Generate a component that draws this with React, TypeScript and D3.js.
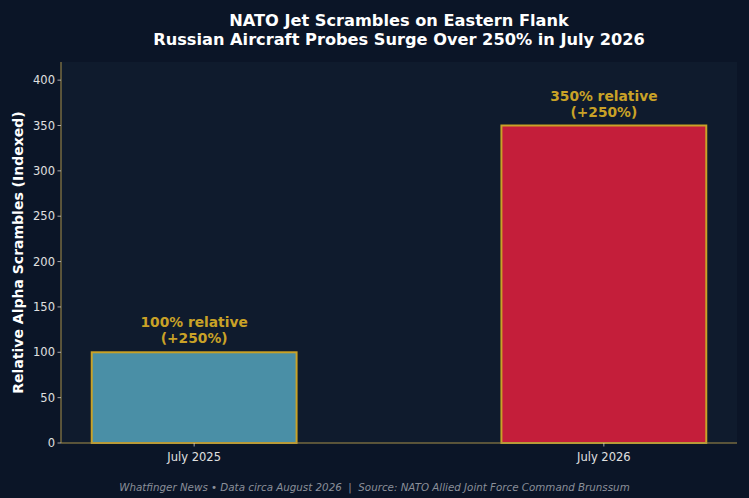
import React from "react";
import * as d3 from "d3";

const categories = ["July 2025", "July 2026"];
const values = [100, 350];
const barColors = ["#4a8fa6", "#c41e3a"];
const labelLines = [
  ["100% relative", "(+250%)"],
  ["350% relative", "(+250%)"],
];
const yTicks = [0, 50, 100, 150, 200, 250, 300, 350, 400];
const titleLines = [
  "NATO Jet Scrambles on Eastern Flank",
  "Russian Aircraft Probes Surge Over 250% in July 2026",
];
const yLabel = "Relative Alpha Scrambles (Indexed)";
const footer =
  "Whatfinger News \u2022 Data circa August 2026  |  Source: NATO Allied Joint Force Command Brunssum";

const W = 749;
const H = 498;
const M = { left: 61, right: 12, top: 62, bottom: 55 };
const FONT = "'DejaVu Sans', sans-serif";
const GOLD = "#c9a227";

export default function App() {
  const x = d3
    .scaleBand<string>()
    .domain(categories)
    .range([M.left, W - M.right])
    .paddingInner(0.5)
    .paddingOuter(0.075);
  const y = d3.scaleLinear().domain([0, 420]).range([H - M.bottom, M.top]);
  const plotW = W - M.left - M.right;
  const cx = M.left + plotW / 2;

  return (
    <svg
      width={W}
      height={H}
      style={{ position: "absolute", left: 0, top: 0, display: "block" }}
      fontFamily={FONT}
    >
      <rect x={0} y={0} width={W} height={H} fill="#0b1527" />
      <rect
        x={M.left}
        y={M.top}
        width={plotW}
        height={H - M.top - M.bottom}
        fill="#0f1b2d"
      />
      {titleLines.map((t, i) => (
        <text
          key={i}
          x={cx}
          y={26 + i * 19}
          textAnchor="middle"
          fill="#ffffff"
          fontWeight="bold"
          fontSize={16.2}
        >
          {t}
        </text>
      ))}
      {categories.map((c, i) => {
        const bx = x(c)!;
        const by = y(values[i]);
        return (
          <g key={c}>
            <rect
              x={bx}
              y={by}
              width={x.bandwidth()}
              height={y(0) - by}
              fill={barColors[i]}
              stroke={GOLD}
              strokeWidth={2}
            />
            {labelLines[i].map((l, j) => (
              <text
                key={j}
                x={bx + x.bandwidth() / 2}
                y={by - 25 + j * 16}
                textAnchor="middle"
                fill={GOLD}
                fontWeight="bold"
                fontSize={13.8}
              >
                {l}
              </text>
            ))}
          </g>
        );
      })}
      {/* y axis */}
      <line x1={M.left} x2={M.left} y1={M.top} y2={H - M.bottom} stroke="#a8914a" strokeWidth={1} />
      {yTicks.map((t) => (
        <g key={t}>
          <line x1={M.left - 3.5} x2={M.left} y1={y(t)} y2={y(t)} stroke="#cccccc" strokeWidth={0.8} />
          <text
            x={M.left - 6}
            y={y(t)}
            dy="0.35em"
            textAnchor="end"
            fill="#e0e0e0"
            fontSize={11.5}
          >
            {t}
          </text>
        </g>
      ))}
      {/* x axis */}
      <line x1={M.left} x2={W - M.right} y1={y(0)} y2={y(0)} stroke="#a8914a" strokeWidth={1} />
      {categories.map((c) => {
        const tx = x(c)! + x.bandwidth() / 2;
        return (
          <g key={c}>
            <line x1={tx} x2={tx} y1={y(0)} y2={y(0) + 3.5} stroke="#cccccc" strokeWidth={0.8} />
            <text x={tx} y={y(0) + 17.5} textAnchor="middle" fill="#e0e0e0" fontSize={11.5}>
              {c}
            </text>
          </g>
        );
      })}
      <text
        transform={`translate(23,${M.top + (H - M.top - M.bottom) / 2}) rotate(-90)`}
        textAnchor="middle"
        fill="#ffffff"
        fontWeight="bold"
        fontSize={14}
      >
        {yLabel}
      </text>
      <text
        x={W / 2}
        y={491}
        textAnchor="middle"
        fill="#8a8f99"
        fontStyle="italic"
        fontSize={10.3}
        style={{ whiteSpace: "pre" }}
      >
        {footer}
      </text>
    </svg>
  );
}
